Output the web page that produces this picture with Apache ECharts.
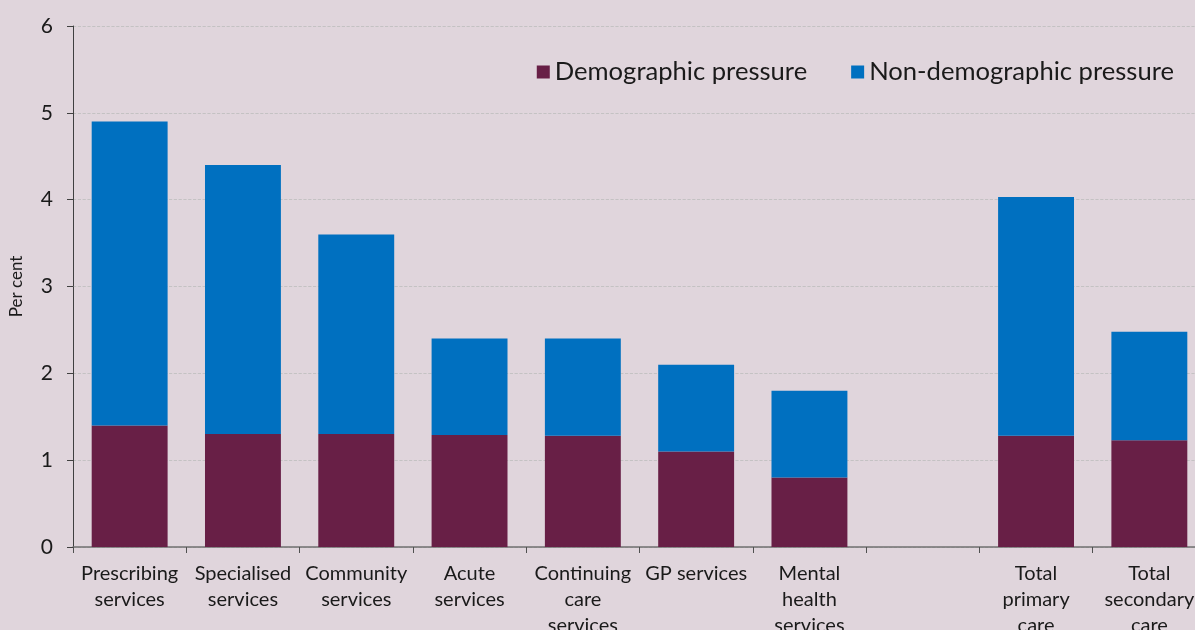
<!DOCTYPE html>
<html><head><meta charset="utf-8">
<script src="https://cdn.jsdelivr.net/npm/echarts@6/dist/echarts.min.js"></script>
<style>html,body{margin:0;padding:0;background:#e0d5dc;}#c{width:1195px;height:630px;}</style>
</head><body><div id="c"></div>
<script>
const categories = ["Prescribing\nservices","Specialised\nservices","Community\nservices","Acute\nservices","Continuing\ncare\nservices","GP services","Mental\nhealth\nservices","","Total\nprimary\ncare","Total\nsecondary\ncare"];
const demographic = [1.4, 1.3, 1.3, 1.29, 1.28, 1.1, 0.8, null, 1.28, 1.23];
const nonDemographic = [3.5, 3.1, 2.3, 1.11, 1.12, 1.0, 1.0, null, 2.75, 1.25];
const yTicks = {min: 0, max: 6, interval: 1};

const FONT = 'Lato';
const chart = echarts.init(document.getElementById('c'));
chart.setOption({
  backgroundColor: '#e0d5dc',
  animation: false,
  textStyle: {fontFamily: FONT, color: '#1a1a1a'},
  legend: {
    right: 16, top: 54,
    itemWidth: 13, itemHeight: 13, itemGap: 44,
    icon: 'rect',
    textStyle: {fontFamily: FONT, fontSize: 25.6, color: '#1a1a1a'},
    data: ['Demographic pressure', 'Non-demographic pressure']
  },
  grid: {left: 73, top: 26, width: 1133, bottom: 83, containLabel: false, outerBoundsMode: 'none'},
  xAxis: {
    type: 'category', data: categories,
    axisLine: {lineStyle: {color: '#707070', width: 1.5}},
    axisTick: {show: true, length: 6, lineStyle: {color: '#505050'}},
    axisLabel: {fontFamily: FONT, fontSize: 20, color: '#1a1a1a', margin: 14, lineHeight: 26, interval: 0}
  },
  yAxis: {
    type: 'value', min: yTicks.min, max: yTicks.max, interval: yTicks.interval,
    name: 'Per cent', nameLocation: 'middle', nameGap: 48, nameRotate: 90,
    nameTextStyle: {fontFamily: FONT, fontSize: 17, color: '#1a1a1a'},
    axisLine: {show: true, lineStyle: {color: '#404040', width: 1}},
    axisTick: {show: true, length: 6, lineStyle: {color: '#404040'}},
    axisLabel: {fontFamily: FONT, fontSize: 21, color: '#1a1a1a', margin: 20},
    splitLine: {lineStyle: {color: '#bdbdbd', type: 'dashed', width: 0.8}}
  },
  series: [
    {name: 'Demographic pressure', type: 'bar', stack: 's', data: demographic, barWidth: '67%', itemStyle: {color: '#681f46'}},
    {name: 'Non-demographic pressure', type: 'bar', stack: 's', data: nonDemographic, barWidth: '67%', itemStyle: {color: '#0070c0'}}
  ]
});
</script></body></html>
